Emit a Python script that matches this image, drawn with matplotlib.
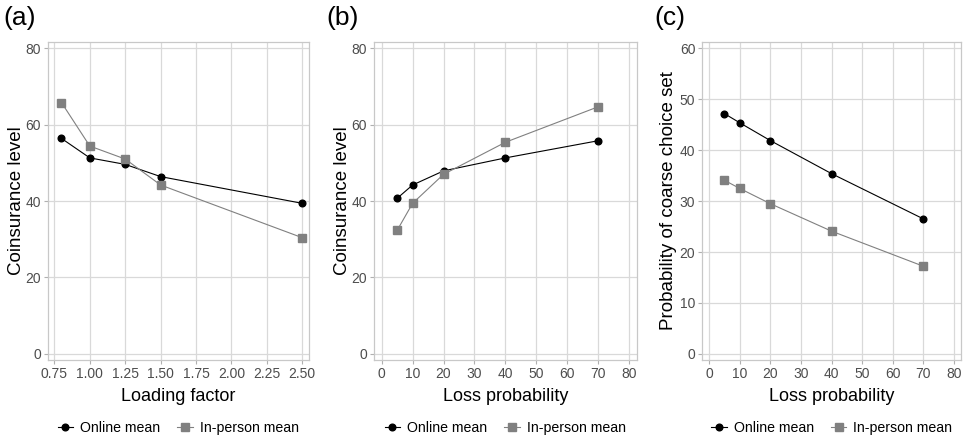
import numpy as np
import matplotlib
matplotlib.use('Agg')
import matplotlib.pyplot as plt

# data
loading = [0.8, 1.0, 1.25, 1.5, 2.5]
coins_load_online = [56.4, 51.3, 49.6, 46.4, 39.4]
coins_load_person = [65.8, 54.4, 51.0, 44.2, 30.4]

loss_prob = [5, 10, 20, 40, 70]
coins_loss_online = [40.7, 44.2, 47.9, 51.3, 55.8]
coins_loss_person = [32.3, 39.4, 47.0, 55.4, 64.7]

coarse_online = [47.2, 45.4, 41.9, 35.4, 26.5]
coarse_person = [34.1, 32.5, 29.5, 24.1, 17.2]

series_names = ['Online mean', 'In-person mean']
panel_tags = ['(a)', '(b)', '(c)']

plt.rcParams['font.family'] = ['Liberation Sans', 'DejaVu Sans']

fig = plt.figure(figsize=(9.64, 4.4), dpi=100)

grid_col = '#d9d9d9'
tick_col = '#4d4d4d'
person_col = '#808080'


def panel(rect, x, y_on, y_ip, xticks, xlim, yticks, ylim, xlabel, ylabel, tag, tag_x, ypad):
    ax = fig.add_axes(rect)
    ax.plot(x, y_on, '-o', color='black', lw=0.8, ms=4.8, label=series_names[0])
    ax.plot(x, y_ip, '-s', color=person_col, lw=0.8, ms=5.2, label=series_names[1])
    ax.set_xticks(xticks)
    ax.set_yticks(yticks)
    ax.set_xlim(xlim)
    ax.set_ylim(ylim)
    ax.grid(True, color=grid_col, lw=0.9)
    ax.set_axisbelow(True)
    for s in ax.spines.values():
        s.set_color('#c8c8c8')
        s.set_linewidth(0.9)
    ax.tick_params(colors='#b0b0b0', labelcolor=tick_col, labelsize=10, length=3, width=0.8, pad=2)
    ax.set_xlabel(xlabel, fontsize=13, labelpad=5)
    ax.set_ylabel(ylabel, fontsize=13.5, labelpad=ypad)
    cx = rect[0] + rect[2] / 2
    ax.legend(loc='center', bbox_to_anchor=(cx, 0.027), bbox_transform=fig.transFigure,
              ncol=2, frameon=False, fontsize=10.2, handlelength=1.1, handletextpad=0.5,
              columnspacing=1.2, borderaxespad=0)
    fig.text(tag_x, 0.958, tag, fontsize=19, ha='left', va='center')
    return ax


panel([0.0495, 0.182, 0.271, 0.723], loading, coins_load_online, coins_load_person,
      [0.75, 1.0, 1.25, 1.5, 1.75, 2.0, 2.25, 2.5], (0.703, 2.547),
      [0, 20, 40, 60, 80], (-1.6, 81.7), 'Loading factor', 'Coinsurance level',
      panel_tags[0], 0.004, 0)
panel([0.388, 0.182, 0.2725, 0.723], loss_prob, coins_loss_online, coins_loss_person,
      np.arange(0, 81, 10), (-2.45, 82.4),
      [0, 20, 40, 60, 80], (-1.6, 81.7), 'Loss probability', 'Coinsurance level',
      panel_tags[1], 0.339, 0)
panel([0.7285, 0.182, 0.2685, 0.723], loss_prob, coarse_online, coarse_person,
      np.arange(0, 81, 10), (-2.2, 82.3),
      np.arange(0, 61, 10), (-1.2, 61.3), 'Loss probability', 'Probability of coarse choice set',
      panel_tags[2], 0.679, 2)

fig.savefig('out.png', dpi=100)
